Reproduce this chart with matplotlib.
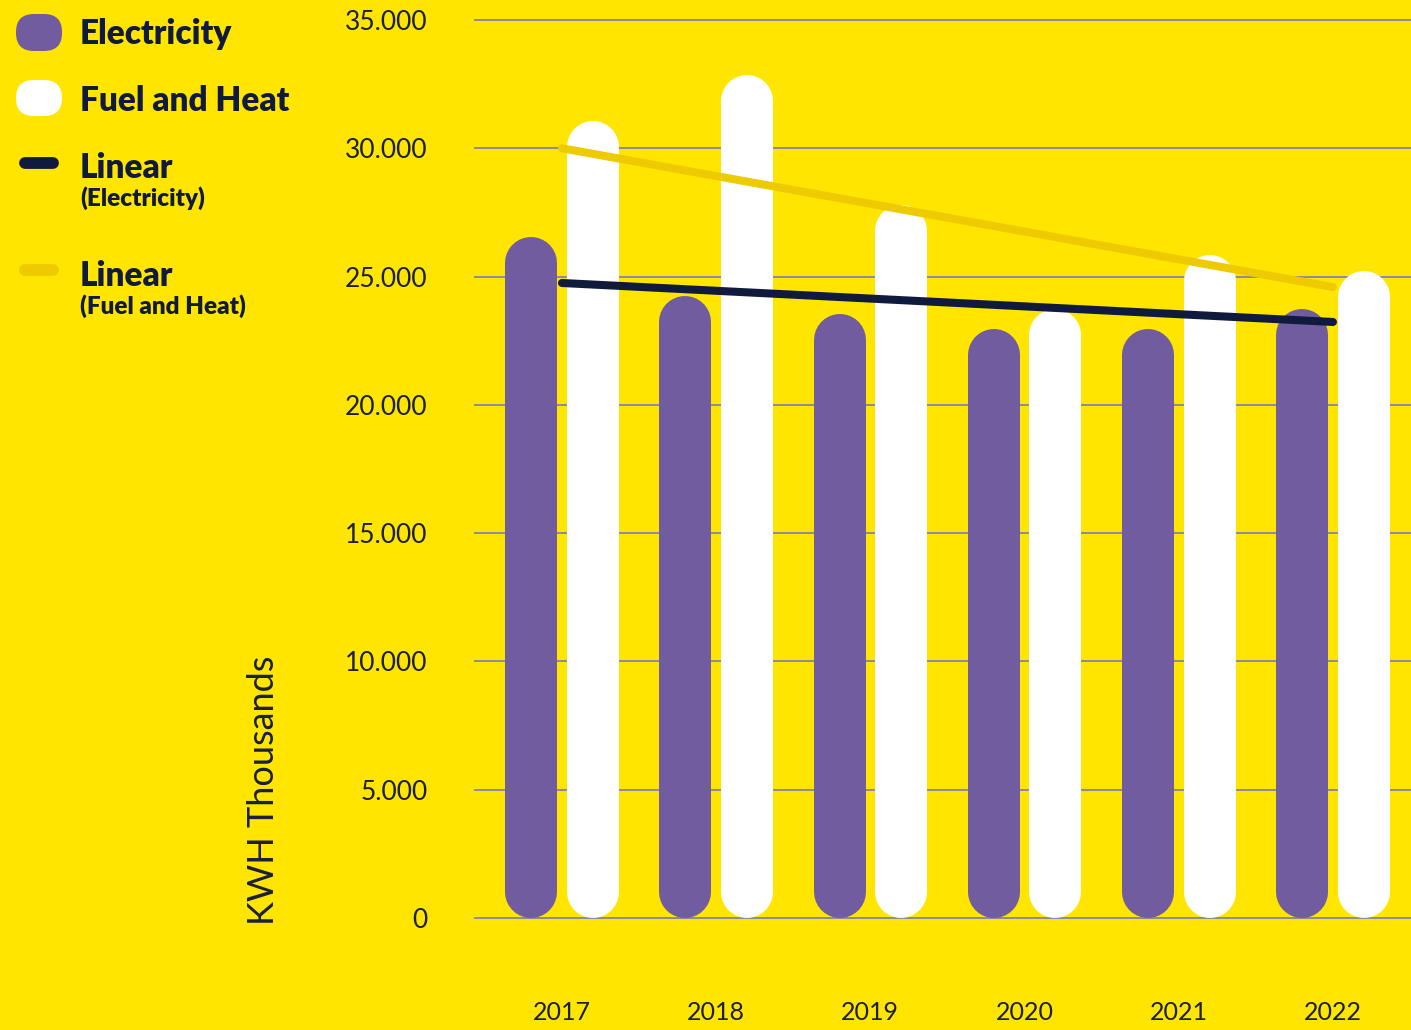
import matplotlib
matplotlib.use('Agg')
import matplotlib.pyplot as plt
from matplotlib.patches import FancyBboxPatch
import numpy as np

# -------------------------------
# Data
# -------------------------------
years = ['2017', '2018', '2019', '2020', '2021', '2022']
electricity = [26550, 24250, 23550, 22950, 22950, 23750]
fuel_heat = [31050, 32850, 27800, 23750, 25850, 25200]
# trend line end points (first and last year)
trend_electricity = [24750, 23230]
trend_fuel_heat = [30000, 24590]
y_ticks = [0, 5000, 10000, 15000, 20000, 25000, 30000, 35000]
y_tick_labels = ['0', '5.000', '10.000', '15.000', '20.000', '25.000', '30.000', '35.000']

# -------------------------------
# Styles
# -------------------------------
BG = '#FFE500'
PURPLE = '#705C9F'
WHITE = '#FFFFFF'
NAVY = '#0F1A3C'
TREND_YELLOW = '#EECB00'
GRID = '#8E88A4'
TEXT = '#1A1F3A'

W, H, DPI = 1411, 1030, 100
fig = plt.figure(figsize=(W / DPI, H / DPI), dpi=DPI, facecolor=BG)
ax = fig.add_axes([475 / W, 1 - 918 / H, 1 - 475 / W, (918 - 20) / H])
ax.set_facecolor(BG)

x = np.arange(len(years))
ax.set_xlim(-0.564, 5.506)
ax.set_ylim(0, 35000)

# grid
for t in y_ticks:
    ax.axhline(t, color=GRID, lw=1.4, zorder=1, clip_on=False)

# rounded bars as thick lines with round caps
bar_px = 52
bar_pt = bar_px * 72 / DPI
inv = ax.transData.inverted()
r_data = inv.transform((0, bar_px / 2))[1] - inv.transform((0, 0))[1]
offset = 0.2

for xi, v in zip(x, electricity):
    ax.plot([xi - offset, xi - offset], [r_data, v - r_data], color=PURPLE,
            lw=bar_pt, solid_capstyle='round', zorder=2)
for xi, v in zip(x, fuel_heat):
    ax.plot([xi + offset, xi + offset], [r_data, v - r_data], color=WHITE,
            lw=bar_pt, solid_capstyle='round', zorder=2)

# trend lines
ax.plot([x[0], x[-1]], trend_fuel_heat, color=TREND_YELLOW, lw=5.8,
        solid_capstyle='round', zorder=3)
ax.plot([x[0], x[-1]], trend_electricity, color=NAVY, lw=5.8,
        solid_capstyle='round', zorder=4)

ax.set_yticks(y_ticks)
ax.set_yticklabels(y_tick_labels, fontsize=19, color=TEXT, family='Lato', fontweight='normal')
ax.set_xticks(x)
ax.set_xticklabels(years, fontsize=18, color=TEXT, family='Lato', fontweight='normal')
ax.tick_params(axis='y', length=0, pad=34)
ax.tick_params(axis='x', length=0, pad=60)
for s in ax.spines.values():
    s.set_visible(False)

fig.text(263 / W, 1 - 925 / H, 'KWH Thousands', rotation=90, ha='center', va='bottom',
         fontsize=26, color=TEXT, family='Lato', fontweight='normal')

# -------------------------------
# Legend (pixel coordinates overlay)
# -------------------------------
lg = fig.add_axes([0, 0, 1, 1], facecolor='none')
lg.set_xlim(0, W)
lg.set_ylim(H, 0)
lg.axis('off')

lg.add_patch(FancyBboxPatch((16, 14), 46, 37, boxstyle='round,pad=0,rounding_size=18',
                            fc=PURPLE, ec='none'))
lg.add_patch(FancyBboxPatch((16, 80), 46, 36, boxstyle='round,pad=0,rounding_size=18',
                            fc=WHITE, ec='none'))
lg.plot([25, 53], [163, 163], color=NAVY, lw=8.5, solid_capstyle='round')
lg.plot([25, 53], [270, 270], color=TREND_YELLOW, lw=8.5, solid_capstyle='round')

big = dict(fontsize=24, color='#101A3D', family='Lato', fontweight='heavy', va='baseline')
small = dict(fontsize=17.5, color='#101A3D', family='Lato', fontweight='heavy', va='baseline')
lg.text(80, 44, 'Electricity', **big)
lg.text(80, 111, 'Fuel and Heat', **big)
lg.text(80, 178, 'Linear', **big)
lg.text(80, 206, '(Electricity)', **small)
lg.text(80, 286, 'Linear', **big)
lg.text(80, 314, '(Fuel and Heat)', **small)

fig.savefig('out.png', dpi=DPI, facecolor=BG)
